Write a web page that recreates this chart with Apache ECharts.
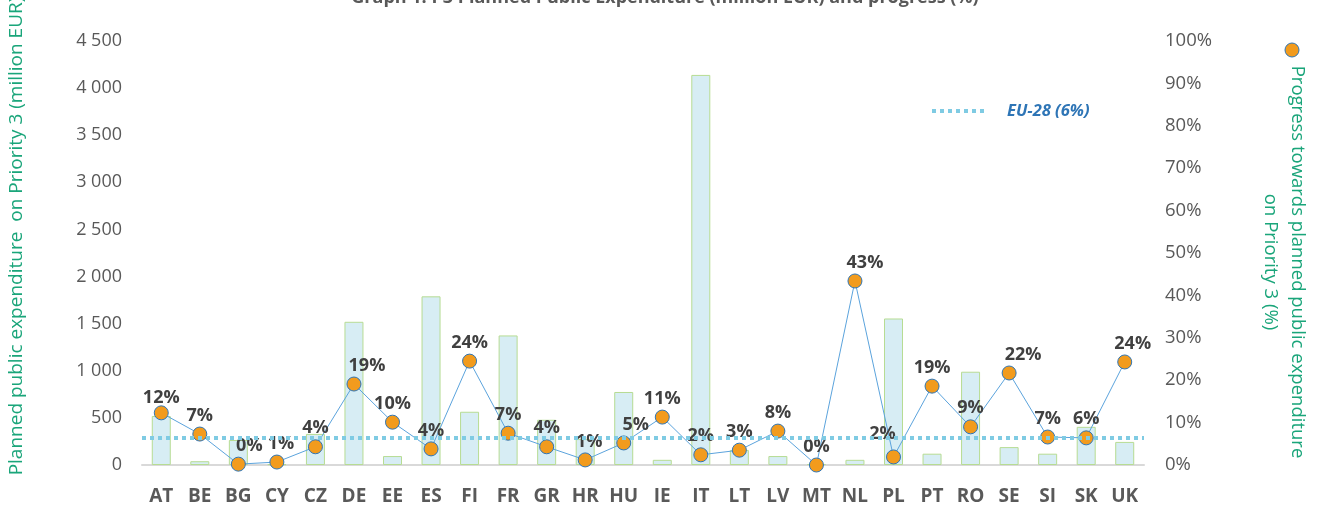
<!DOCTYPE html>
<html>
<head>
<meta charset="utf-8">
<script src="https://cdn.jsdelivr.net/npm/echarts@6/dist/echarts.min.js"></script>
<style>
  html, body { margin: 0; padding: 0; background: #ffffff; }
  #chart { width: 1320px; height: 507px; }
</style>
</head>
<body>
<div id="chart"></div>
<script>
// ---- Data ----
const categories = ['AT','BE','BG','CY','CZ','DE','EE','ES','FI','FR','GR','HR','HU','IE','IT','LT','LV','MT','NL','PL','PT','RO','SE','SI','SK','UK'];
const plannedExpenditure = [520, 40, 265, 8, 330, 1520, 95, 1790, 565, 1375, 480, 275, 775, 55, 4140, 160, 95, 10, 55, 1555, 120, 990, 190, 120, 405, 245];
const progressPct = [12.3, 7.3, 0.2, 0.7, 4.3, 19.1, 10.1, 3.8, 24.5, 7.5, 4.3, 1.2, 5.2, 11.3, 2.4, 3.5, 8.0, 0.0, 43.4, 1.9, 18.6, 9.0, 21.7, 6.6, 6.4, 24.3];
const progressLabels = ['12%','7%','0%','1%','4%','19%','10%','4%','24%','7%','4%','1%','5%','11%','2%','3%','8%','0%','43%','2%','19%','9%','22%','7%','6%','24%'];
const euAverage = 6.4;
const euLabel = 'EU-28 (6%)';
const leftTicks = ['0','500','1 000','1 500','2 000','2 500','3 000','3 500','4 000','4 500'];
const titleText = 'Graph 1: P3 Planned Public Expenditure (million EUR) and progress (%)';
const leftAxisTitle = 'Planned public expenditure  on Priority 3 (million EUR)';
const rightLegendText = 'Progress towards planned public expenditure\non Priority 3 (%)';

// ---- Styling (label nudges, not data) ----
const labelNudge = { AT: [0, 4], BG: [11, 0], CY: [4, 0], DE: [13, 0], HU: [12, 0], NL: [10, 0], SE: [14, 0], UK: [8, 0], PL: [-11, -5], HR: [4, 0] };

const FONT = 'Open Sans';
const green = '#1aa57a';
const tickGray = '#595959';

const chart = echarts.init(document.getElementById('chart'), null, { renderer: 'canvas' });

const lineData = progressPct.map((v, i) => {
  const n = labelNudge[categories[i]] || [0, 0];
  return { value: v, label: { offset: n } };
});

chart.setOption({
  animation: false,
  textStyle: { fontFamily: FONT },
  title: {
    text: titleText,
    left: 660, textAlign: 'center',
    top: -16,
    textStyle: { fontFamily: FONT, fontSize: 18, fontWeight: 'bold', color: '#595959' }
  },
  grid: { left: 142, right: 176, top: 41, bottom: 42, containLabel: false },
  xAxis: {
    type: 'category',
    data: categories,
    axisLine: { show: true, lineStyle: { color: '#d9d9d9', width: 2 } },
    axisTick: { show: false },
    axisLabel: { color: tickGray, fontSize: 19, fontWeight: 'bold', margin: 22, fontFamily: FONT }
  },
  yAxis: [
    {
      type: 'value', min: 0, max: 4500, interval: 500,
      splitLine: { show: false }, axisLine: { show: false }, axisTick: { show: false },
      axisLabel: {
        color: tickGray, fontSize: 18, margin: 20, fontFamily: FONT,
        formatter: v => leftTicks[Math.round(v / 500)]
      }
    },
    {
      type: 'value', min: 0, max: 100, interval: 10,
      splitLine: { show: false }, axisLine: { show: false }, axisTick: { show: false },
      axisLabel: { color: tickGray, fontSize: 18.5, margin: 21, fontFamily: FONT, formatter: '{value}%' }
    }
  ],
  series: [
    {
      type: 'bar',
      name: 'Planned',
      data: plannedExpenditure,
      yAxisIndex: 0,
      barWidth: 19,
      itemStyle: { color: '#d7edf4', borderColor: '#b7dc93', borderWidth: 1 },
      z: 1
    },
    {
      type: 'line',
      name: 'Progress',
      data: lineData,
      yAxisIndex: 1,
      symbol: 'circle',
      symbolSize: 14,
      lineStyle: { color: '#5ba3dc', width: 1 },
      itemStyle: { color: '#f29b1d', borderColor: '#2e75b6', borderWidth: 1 },
      label: {
        show: true, position: 'top', distance: 2,
        fontFamily: FONT, fontSize: 18, fontWeight: 'bold', color: '#404040',
        formatter: p => progressLabels[p.dataIndex]
      },
      markLine: {
        silent: true, symbol: 'none', label: { show: false },
        lineStyle: { color: '#7fcbe3', width: 4, type: [4, 4] },
        data: [{ yAxis: euAverage }]
      },
      z: 3
    }
  ],
  graphic: [
    {
      type: 'text', x: 17, y: 236, rotation: Math.PI / 2,
      style: { text: leftAxisTitle, fill: green, fontFamily: FONT, fontSize: 19, align: 'center', verticalAlign: 'middle' }
    },
    {
      type: 'circle', shape: { cx: 1292, cy: 50, r: 7 },
      style: { fill: '#f29b1d', stroke: '#2e75b6', lineWidth: 1 }
    },
    {
      type: 'text', x: 1284, y: 262, rotation: -Math.PI / 2,
      style: { text: rightLegendText, fill: green, fontFamily: FONT, fontSize: 18.5, align: 'center', verticalAlign: 'middle', lineHeight: 27 }
    },
    {
      type: 'line', shape: { x1: 932, y1: 111, x2: 988, y2: 111 },
      style: { stroke: '#7fcbe3', lineWidth: 4, lineDash: [4, 4] }
    },
    {
      type: 'text', x: 1007, y: 111,
      style: { text: euLabel, fill: '#2e75b6', fontFamily: FONT, fontSize: 16.5, fontWeight: 'bold', fontStyle: 'italic', verticalAlign: 'middle' }
    }
  ]
});
</script>
</body>
</html>
